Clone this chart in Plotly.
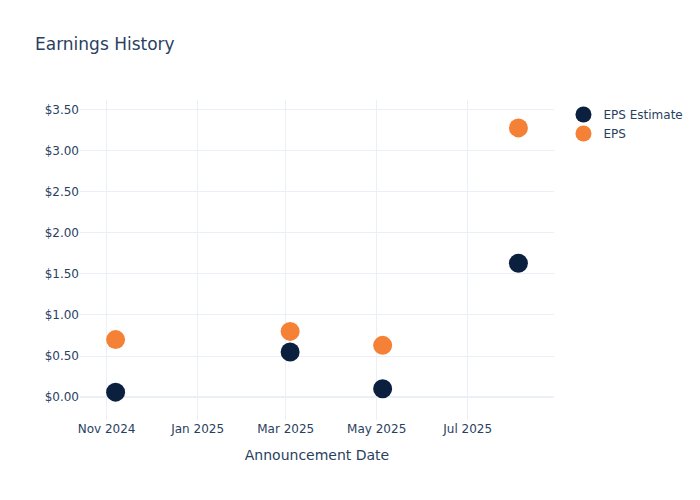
import plotly.graph_objects as go

dates = ["2024-11-07", "2025-03-04", "2025-05-05", "2025-08-04"]
eps_estimate = [0.06, 0.55, 0.10, 1.63]
eps_actual = [0.70, 0.80, 0.63, 3.28]

fig = go.Figure()
fig.add_trace(go.Scatter(x=dates, y=eps_estimate, mode="markers", name="EPS Estimate",
                         marker=dict(color="#0b1f3f", size=19)))
fig.add_trace(go.Scatter(x=dates, y=eps_actual, mode="markers", name="EPS",
                         marker=dict(color="#f58137", size=19)))
fig.update_layout(
    template="plotly_white",
    width=700, height=500,
    font=dict(family="DejaVu Sans"),
    title=dict(text="Earnings History"),
    xaxis=dict(title=dict(text="Announcement Date")),
    yaxis=dict(tickprefix="$", tickformat=".2f"),
)
fig.write_html("out.html", config={"displayModeBar": False},
               post_script="document.body.style.margin='0';")
